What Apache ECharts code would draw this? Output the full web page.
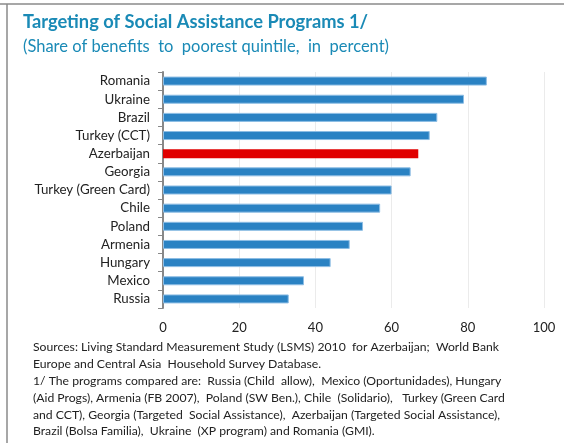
<!DOCTYPE html>
<html><head><meta charset="utf-8">
<script src="https://cdn.jsdelivr.net/npm/echarts@6/dist/echarts.min.js"></script>
<style>html,body{margin:0;padding:0;background:#fff}#c{width:564px;height:443px}</style>
</head><body><div id="c"></div>
<script>
const categories = ["Romania","Ukraine","Brazil","Turkey (CCT)","Azerbaijan","Georgia","Turkey (Green Card)","Chile","Poland","Armenia","Hungary","Mexico","Russia"];
const values = [85,79,72,70,67,65,60,57,52.5,49,44,37,33];
const highlight = "Azerbaijan";
const xTicks = [0,20,40,60,80,100];
const titleText = "Targeting of Social Assistance Programs 1/";
const subtitleText = "(Share of benefits  to  poorest quintile,  in  percent)";
const noteLines = [
  "Sources: Living Standard Measurement Study (LSMS) 2010  for Azerbaijan;  World Bank",
  "Europe and Central Asia  Household Survey Database.",
  "1/ The programs compared are:  Russia (Child  allow),  Mexico (Oportunidades), Hungary",
  "(Aid Progs), Armenia (FB 2007),  Poland (SW Ben.), Chile  (Solidario),   Turkey (Green Card",
  "and CCT), Georgia (Targeted  Social Assistance),  Azerbaijan (Targeted Social Assistance),",
  "Brazil (Bolsa Familia),  Ukraine  (XP program) and Romania (GMI)."
];
const chart = echarts.init(document.getElementById('c'), null, {renderer:'canvas'});
const font = 'Lato, "Open Sans", sans-serif';
chart.setOption({
  animation:false,
  backgroundColor:'#fff',
  grid:{left:163,right:20,top:72,bottom:135,containLabel:false},
  xAxis:{type:'value',min:xTicks[0],max:xTicks[xTicks.length-1],interval:20,
    axisLine:{show:false},axisTick:{show:false},
    axisLabel:{color:'#222',fontSize:13,fontFamily:font,margin:13},
    splitLine:{show:true,lineStyle:{color:'#ebebeb',width:1}}},
  yAxis:{type:'category',data:categories,inverse:true,
    axisLine:{show:true,lineStyle:{color:'#888',width:2}},
    axisTick:{show:true,length:5,lineStyle:{color:'#888',width:1}},
    axisLabel:{color:'#222',fontSize:13.3,fontFamily:font,margin:13}},
  series:[{type:'bar',barWidth:9,
    data:values.map((v,i)=>({value:v,itemStyle: categories[i]===highlight?{color:'#e00000',borderWidth:0}:{color:'#2a82c3',borderColor:'#8dbde4',borderWidth:1}}))}],
  graphic:[
    {type:'line',shape:{x1:0,y1:4,x2:564,y2:4},style:{stroke:'#8a8a8a',lineWidth:1.5},silent:true},
    {type:'line',shape:{x1:7,y1:4,x2:7,y2:443},style:{stroke:'#8a8a8a',lineWidth:1.5},silent:true},
    {type:'text',left:23,top:13,style:{text:titleText,fill:'#1a8ab6',font:'bold 18.3px '+font}},
    {type:'text',left:23,top:38,style:{text:subtitleText,fill:'#1a8ab6',font:'16.5px '+font}},
    {type:'text',left:33,top:339,style:{text:noteLines.join('\n'),fill:'#222',font:'12.2px '+font,lineHeight:16.8}}
  ]
});
</script></body></html>
